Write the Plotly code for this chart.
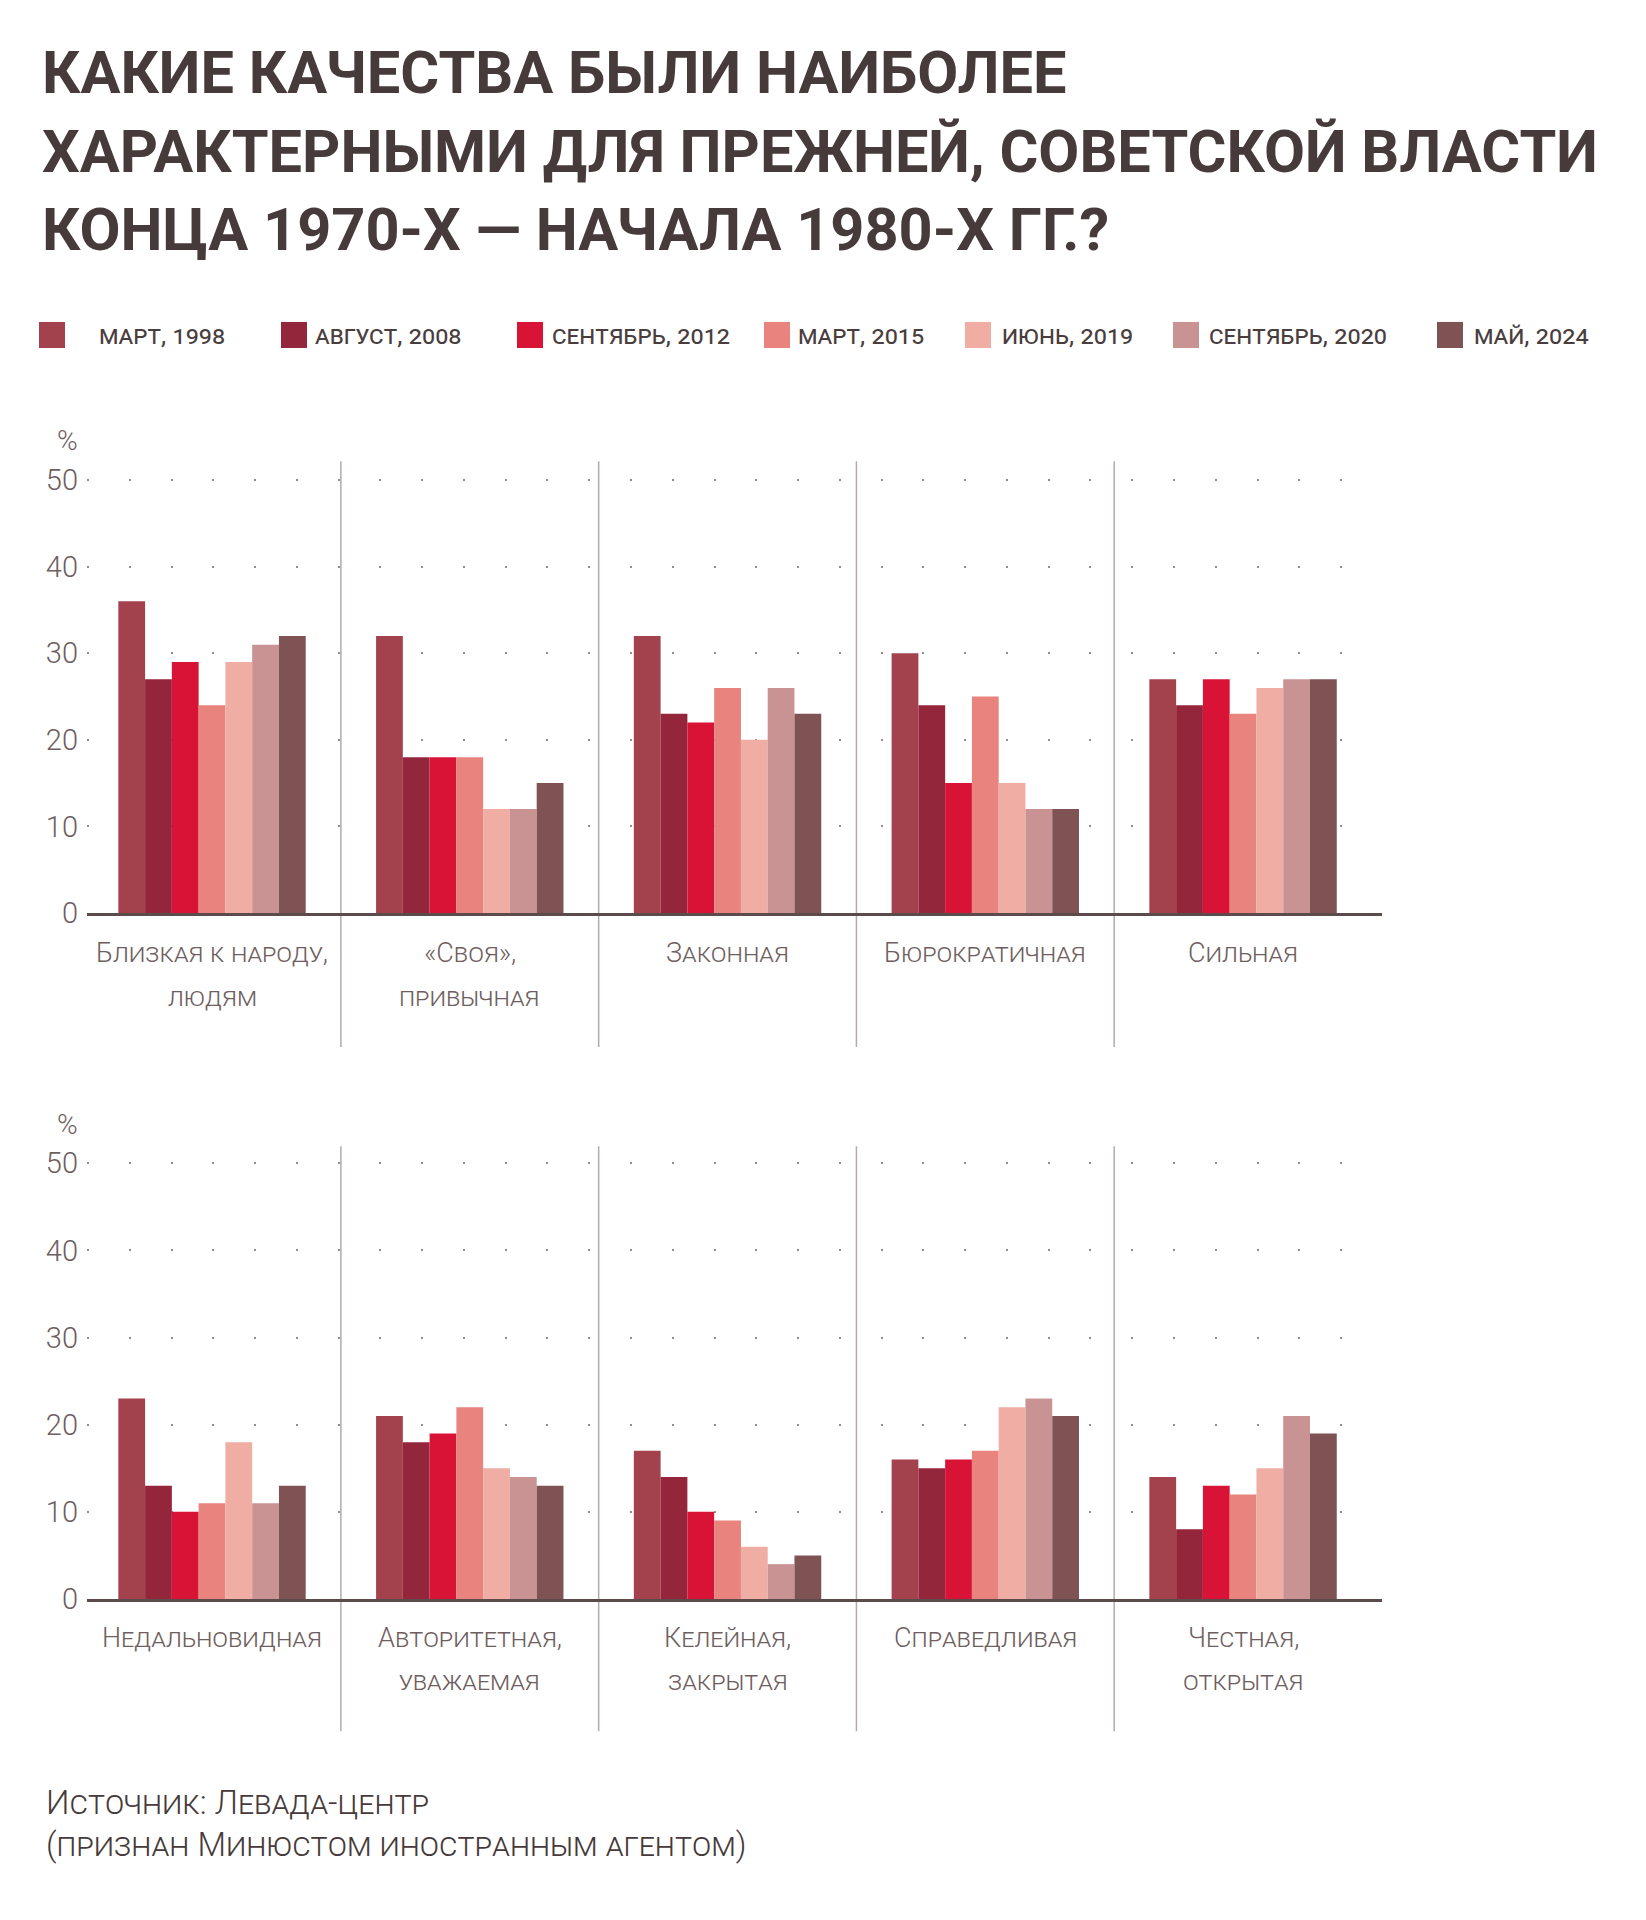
import plotly.graph_objects as go

# ---------------- data ----------------
series_names = ["март, 1998", "август, 2008", "сентябрь, 2012", "март, 2015",
                "июнь, 2019", "сентябрь, 2020", "май, 2024"]

top_categories = ["Близкая к народу,<br>людям", "«Своя»,<br>привычная", "Законная",
                  "Бюрократичная", "Сильная"]
bottom_categories = ["Недальновидная", "Авторитетная,<br>уважаемая", "Келейная,<br>закрытая",
                     "Справедливая", "Честная,<br>открытая"]

top_1998 = [36, 32, 32, 30, 27]
top_2008 = [27, 18, 23, 24, 24]
top_2012 = [29, 18, 22, 15, 27]
top_2015 = [24, 18, 26, 25, 23]
top_2019 = [29, 12, 20, 15, 26]
top_2020 = [31, 12, 26, 12, 27]
top_2024 = [32, 15, 23, 12, 27]

bottom_1998 = [23, 21, 17, 16, 14]
bottom_2008 = [13, 18, 14, 15, 8]
bottom_2012 = [10, 19, 10, 16, 13]
bottom_2015 = [11, 22, 9, 17, 12]
bottom_2019 = [18, 15, 6, 22, 15]
bottom_2020 = [11, 14, 4, 23, 21]
bottom_2024 = [13, 13, 5, 21, 19]

y_ticks = [0, 10, 20, 30, 40, 50]

title_lines = ["КАКИЕ КАЧЕСТВА БЫЛИ НАИБОЛЕЕ",
               "ХАРАКТЕРНЫМИ ДЛЯ ПРЕЖНЕЙ, СОВЕТСКОЙ ВЛАСТИ",
               "КОНЦА 1970-Х — НАЧАЛА 1980-Х ГГ.?"]
source_lines = ["Источник: Левада-центр", "(признан Минюстом иностранным агентом)"]

# ---------------- style ----------------
colors = ["#a3424d", "#93263a", "#d91336", "#e8837d", "#efada4", "#c99393", "#7f5254"]
W, H = 1646, 1920
OFF = 8                      # default page (body) margin of the html page
FW, FH = W - 2 * OFF, H - 2 * OFF
V_SCALE, V_SHIFT = 0.9832, 13.66   # measured vertical mapping of the rendered page
FONT = "Roboto, sans-serif"
TITLE_COLOR = "#463a3a"
TEXT_COLOR = "#6e5e5e"
LEGEND_COLOR = "#4a3d3d"


def px(x):
    return (x - OFF) / FW


def py(y):
    page_y = (y - V_SHIFT) / V_SCALE
    return 1 - (page_y - OFF) / FH


top_series = [top_1998, top_2008, top_2012, top_2015, top_2019, top_2020, top_2024]
bottom_series = [bottom_1998, bottom_2008, bottom_2012, bottom_2015, bottom_2019,
                 bottom_2020, bottom_2024]

fig = go.Figure()
for name, col, tv, bv in zip(series_names, colors, top_series, bottom_series):
    fig.add_bar(x=top_categories, y=tv, name=name, marker=dict(color=col, line=dict(width=0)),
                xaxis="x", yaxis="y", showlegend=False)
    fig.add_bar(x=bottom_categories, y=bv, name=name, marker=dict(color=col, line=dict(width=0)),
                xaxis="x2", yaxis="y2", showlegend=False)

x_range = [-0.485, 4.539]
plot_left, plot_right = 87, 1382
panels = [  # (baseline px, px per unit, separator top, separator bottom)
    (913, 8.64, 462, 1047),
    (1598, 8.70, 1146, 1730),
]
y_max = 50.5

axis_common_x = dict(range=x_range, domain=[px(plot_left), px(plot_right)], showgrid=False,
                     zeroline=False, showline=True, linecolor="#5b4b4b", linewidth=3,
                     showticklabels=False, ticks="", fixedrange=True)
axis_common_y = dict(range=[0, y_max], tickmode="array", tickvals=y_ticks, showgrid=True,
                     gridcolor="#968a8a", gridwidth=2, griddash="2px,39.77px", zeroline=False,
                     showline=False, ticks="", ticklabelstandoff=8,
                     tickfont=dict(family=FONT, size=29, color=TEXT_COLOR, weight=300),
                     fixedrange=True)

(b1, s1, _, _), (b2, s2, _, _) = panels
fig.update_layout(
    xaxis=dict(axis_common_x, anchor="y"),
    yaxis=dict(axis_common_y, domain=[py(b1), py(b1 - y_max * s1)], anchor="x"),
    xaxis2=dict(axis_common_x, anchor="y2"),
    yaxis2=dict(axis_common_y, domain=[py(b2), py(b2 - y_max * s2)], anchor="x2"),
)

shapes = []
annotations = []

# separators between category groups
for (base, scale, sep_top, sep_bot), xref in zip(panels, ["x", "x2"]):
    for i in range(4):
        shapes.append(dict(type="line", xref=xref, yref="paper", x0=i + 0.5, x1=i + 0.5,
                           y0=py(sep_bot), y1=py(sep_top),
                           line=dict(color="#b3aaaa", width=1.5), layer="below"))

# % signs
for ycen in (441, 1124):
    annotations.append(dict(text="%", xref="paper", yref="paper", x=px(67), y=py(ycen),
                            xanchor="center", yanchor="middle", showarrow=False,
                            font=dict(family=FONT, size=28, color=TEXT_COLOR, weight=300)))

# category labels
label_font = dict(family=FONT, size=27, color=TEXT_COLOR, variant="small-caps", weight=300)
for cats, xref, line_ys in [(top_categories, "x", (953, 997)),
                            (bottom_categories, "x2", (1637, 1680))]:
    for cat in cats:
        for j, line in enumerate(cat.split("<br>")):
            annotations.append(dict(text=line, xref=xref, yref="paper", x=cat, y=py(line_ys[j]),
                                    xanchor="center", yanchor="middle", showarrow=False,
                                    font=label_font))

# title
title_centers = [74.5, 153, 231]
for line, yc in zip(title_lines, title_centers):
    annotations.append(dict(text=line, xref="paper", yref="paper", x=px(40), y=py(yc),
                            xanchor="left", yanchor="middle", showarrow=False,
                            font=dict(family=FONT, size=59.5, color=TITLE_COLOR, weight="bold")))

# legend (manual, large square swatches)
legend_square_x = [39, 281, 517, 764, 965, 1173, 1437]
legend_text_x = [97, 313, 550, 796, 1000, 1207, 1472]
legend_y = 336
sq = 26
for name, col, sx, tx in zip(series_names, colors, legend_square_x, legend_text_x):
    shapes.append(dict(type="rect", xref="paper", yref="paper", x0=px(sx), x1=px(sx + sq),
                       y0=py(legend_y + sq / 2), y1=py(legend_y - sq / 2),
                       fillcolor=col, line=dict(width=0)))
    annotations.append(dict(text=name, xref="paper", yref="paper", x=px(tx), y=py(legend_y),
                            xanchor="left", yanchor="middle", showarrow=False,
                            font=dict(family=FONT, size=26, color=LEGEND_COLOR,
                                      variant="all-small-caps")))

# source
for line, yc in zip(source_lines, [1801, 1843]):
    annotations.append(dict(text=line, xref="paper", yref="paper", x=px(44), y=py(yc),
                            xanchor="left", yanchor="middle", showarrow=False,
                            font=dict(family=FONT, size=33, color=TITLE_COLOR,
                                      variant="small-caps", weight=300)))

fig.update_layout(
    width=FW, height=FH, autosize=False,
    margin=dict(l=0, r=0, t=0, b=0),
    paper_bgcolor="white", plot_bgcolor="white",
    barmode="group", bargap=0.273, bargroupgap=0,
    shapes=shapes, annotations=annotations,
    font=dict(family=FONT),
)

fig.write_html("out.html")
